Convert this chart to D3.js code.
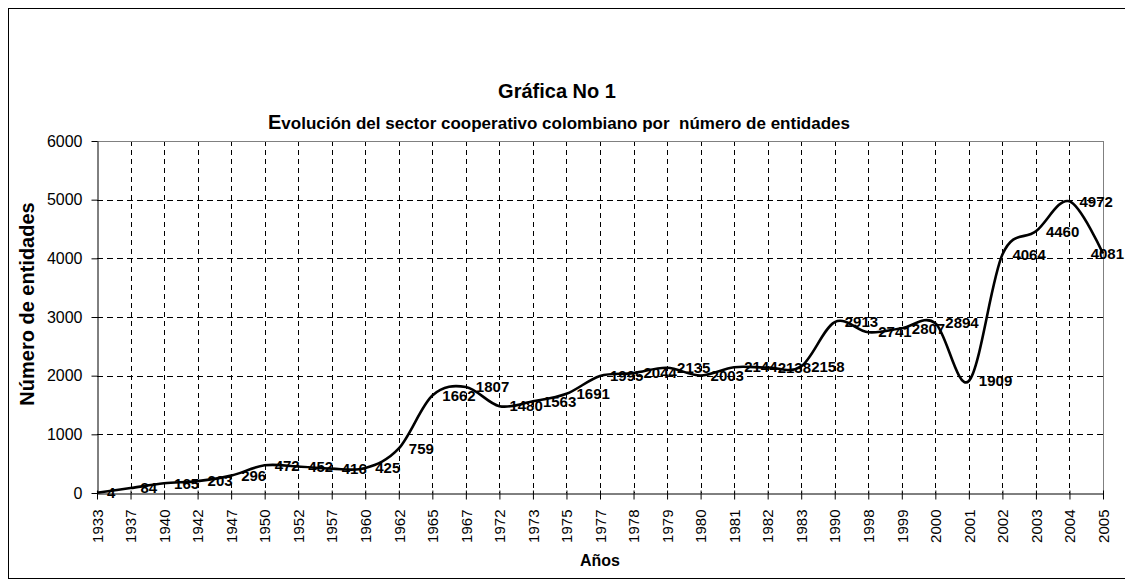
<!DOCTYPE html>
<html><head><meta charset="utf-8">
<script src="https://cdn.jsdelivr.net/npm/d3@7"></script>
<style>body{margin:0;background:#fff;} text{font-family:"Liberation Sans",Arial,sans-serif;}</style>
</head><body><svg id="c" width="1125" height="586"></svg>
<script>
const years = ["1933","1937","1940","1942","1947","1950","1952","1957","1960","1962","1965","1967","1972","1973","1975","1977","1978","1979","1980","1981","1982","1983","1990","1998","1999","2000","2001","2002","2003","2004","2005"];
const values = [4,84,165,203,296,472,452,416,425,759,1662,1807,1480,1563,1691,1995,2044,2135,2003,2144,2138,2158,2913,2741,2807,2894,1909,4064,4460,4972,4081];
const yTicks = [0,1000,2000,3000,4000,5000,6000];

const W = 1125, H = 586;
const svg = d3.select("#c");
svg.append("rect").attr("x",8.5).attr("y",8.5).attr("width",W+10).attr("height",570)
  .attr("fill","#fff").attr("stroke","#000").attr("stroke-width",1);

const L = 97, R = 1103, T = 141, B = 493;
const x = d3.scalePoint().domain(years).range([L,R]).padding(0);
const y = d3.scaleLinear().domain([0,6000]).range([B,T]);

// grid
const g = svg.append("g");
g.selectAll(".hg").data(yTicks.filter(d=>d>0 && d<6000)).join("line")
  .attr("x1",L).attr("x2",R).attr("y1",d=>Math.round(y(d))+0.5).attr("y2",d=>Math.round(y(d))+0.5)
  .attr("stroke","#000").attr("stroke-width",1).attr("stroke-dasharray","6,4");
g.selectAll(".vg").data(years.slice(1,-1)).join("line")
  .attr("x1",d=>Math.round(x(d))+0.5).attr("x2",d=>Math.round(x(d))+0.5).attr("y1",T).attr("y2",B)
  .attr("stroke","#000").attr("stroke-width",1).attr("stroke-dasharray","5,4");
g.append("line").attr("x1",L).attr("x2",R+0.5).attr("y1",T+0.5).attr("y2",T+0.5).attr("stroke","#808080");
g.append("line").attr("x1",R+0.5).attr("x2",R+0.5).attr("y1",T).attr("y2",B).attr("stroke","#808080");

// axes
const xa = svg.append("g").attr("transform",`translate(0,${B+0.5})`)
  .call(d3.axisBottom(x).tickSize(6).tickSizeOuter(0));
xa.select(".domain").attr("stroke","#000");
xa.selectAll(".tick line").attr("y1",-3).attr("stroke","#000");
xa.selectAll(".tick text").attr("transform","rotate(-90)").attr("text-anchor","end")
  .attr("x",-16).attr("y",0).attr("dy","0.35em").attr("font-size","15px").attr("fill","#000");
const ya = svg.append("g").attr("transform",`translate(${L+0.5},0)`)
  .call(d3.axisLeft(y).tickValues(yTicks).tickSize(6).tickSizeOuter(0).tickFormat(d3.format("d")));
ya.select(".domain").attr("stroke","#000");
ya.selectAll(".tick text").attr("font-size","16px").attr("x",-15).attr("fill","#000");

// line
const line = d3.line().x((d,i)=>x(years[i])).y(d=>y(d)).curve(d3.curveCardinal.tension(0));
svg.append("path").datum(values).attr("d",line).attr("fill","none").attr("stroke","#000").attr("stroke-width",2.6);

// labels
const lab = svg.append("g").attr("font-weight","bold").attr("font-size","15px");
lab.selectAll("text").data(values).join("text")
  .attr("y",d=>y(d)).attr("dy","0.35em").text(d=>d)
  .each(function(d,i){
    const w = this.getComputedTextLength();
    let px = x(years[i]) + 10;
    if (px + w > W - 1) px = W - 1 - w;
    d3.select(this).attr("x",px);
  });

// titles
svg.append("text").attr("x",557).attr("y",98).attr("text-anchor","middle")
  .attr("font-weight","bold").attr("font-size","20px").text("Gráfica No 1");
const st = svg.append("text").attr("x",559).attr("y",129).attr("text-anchor","middle")
  .attr("font-weight","bold").attr("font-size","17px");
st.append("tspan").attr("font-size","20px").text("E");
st.append("tspan").style("white-space","pre").text("volución del sector cooperativo colombiano por  número de entidades");
svg.append("text").attr("transform","translate(34,304) rotate(-90)").attr("text-anchor","middle")
  .attr("font-weight","bold").attr("font-size","20px").text("Número de entidades");
svg.append("text").attr("x",600).attr("y",566).attr("text-anchor","middle")
  .attr("font-weight","bold").attr("font-size","16px").text("Años");
</script></body></html>
